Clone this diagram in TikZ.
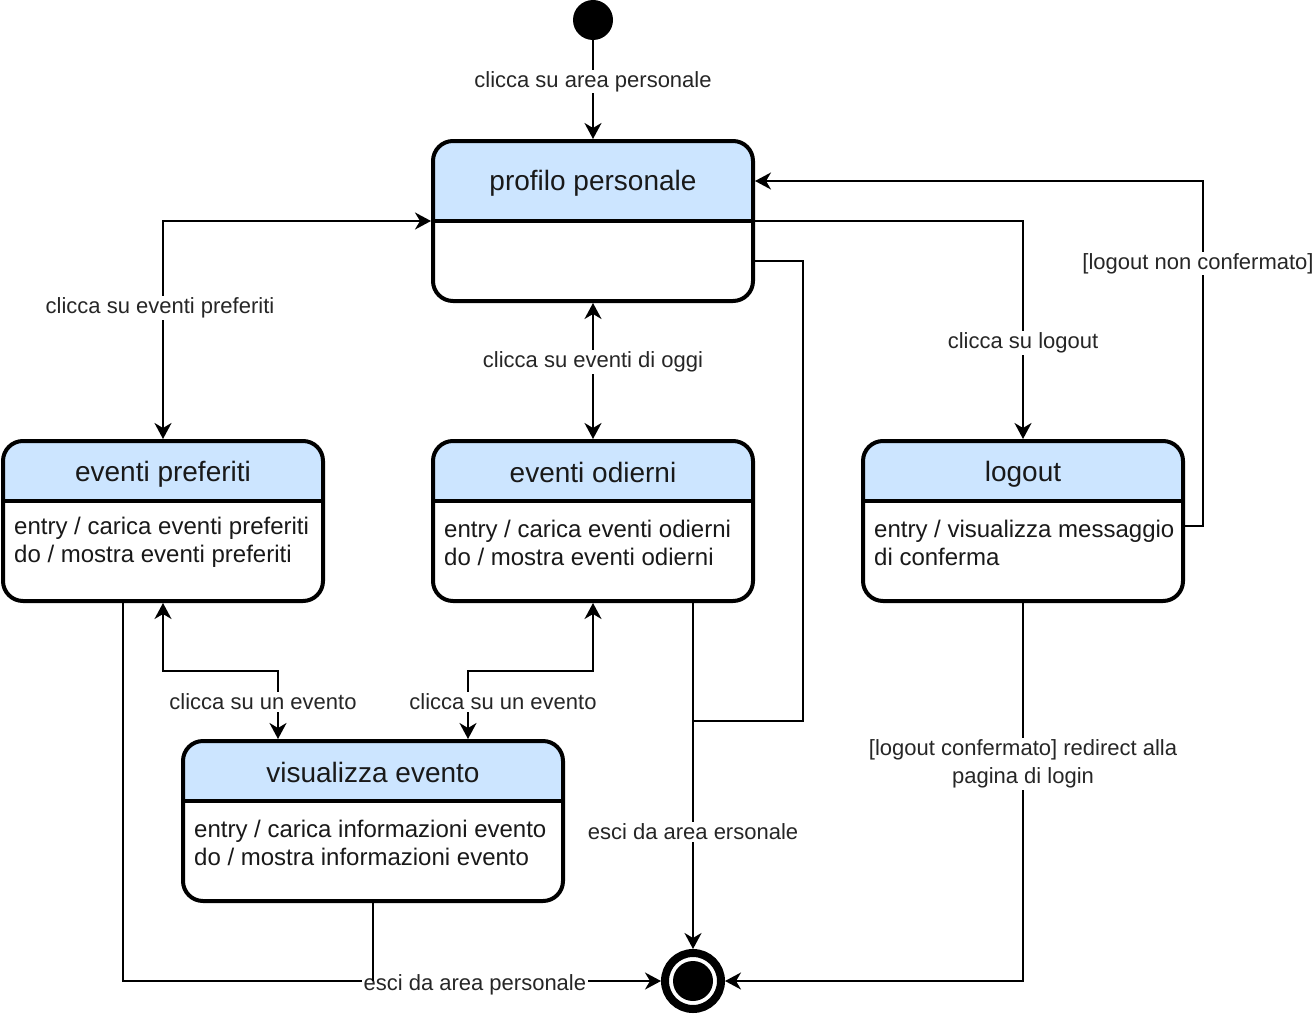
\documentclass[tikz,border=0pt]{standalone}
\usepackage{fontspec}
\setmainfont{Liberation Sans}
\usetikzlibrary{arrows.meta, positioning, calc}

\definecolor{azzurro}{RGB}{204,229,255}

\begin{document}
\begin{tikzpicture}[
  x=1pt, y=-1pt,
  altezza testata/.store in=\altezzatestata,
  altezza testata=60pt,
  stato/.style={
    draw=black,
    line width=4pt,
    rounded corners=20pt,
    fill=white,
    minimum width=320pt,
    minimum height=160pt,
    inner sep=0pt,
    path picture={
      \fill[azzurro, sharp corners] (path picture bounding box.north west) rectangle ([yshift=-\altezzatestata]path picture bounding box.north east);
      \draw[line width=4pt, sharp corners] ([yshift=-\altezzatestata]path picture bounding box.north west) -- ([yshift=-\altezzatestata]path picture bounding box.north east);
    }
  },
  titolo/.style={font=\fontsize{28}{32}\selectfont, text=black!90},
  corpo/.style={
    font=\fontsize{24}{28}\selectfont,
    align=left,
    anchor=west,
    inner sep=0pt,
    text=black!90
  },
  etichetta/.style={
    font=\fontsize{22}{28}\selectfont,
    fill=white,
    inner sep=1.5pt,
    yshift=-2pt,
    align=center,
    text=black!85
  },
  iniziale/.style={circle, fill=black, minimum size=40pt, inner sep=0pt},
  finale/.style={
    circle,
    draw=black,
    line width=8pt,
    fill=white,
    minimum size=56pt,
    inner sep=0pt,
    path picture={\fill[black] (path picture bounding box.center) circle (20pt);}
  },
  freccia/.style={
    -{Stealth[length=16pt, width=17pt, inset=5pt]},
    line width=2pt
  },
  doppia/.style={
    {Stealth[length=16pt, width=17pt, inset=5pt]}-{Stealth[length=16pt, width=17pt, inset=5pt]},
    line width=2pt
  },
  linea/.style={line width=2pt}
]
  \useasboundingbox (0,0) rectangle (1316,1014);

  % Stati
  \node[iniziale] (ini) at (593,20) {};
  \node[stato, altezza testata=80pt] (pp) at (593,221) {};
  \node[stato, below=136pt of pp] (eo) {};
  \node[stato, left=106pt of eo] (ep) {};
  \node[stato, right=106pt of eo] (lo) {};
  \node[stato, minimum width=380pt] (ve) at (373,821) {};
  \node[finale] (fin) at (693,981) {};

  % Titoli
  \node[titolo] (pp-t) at ([yshift=-44pt]pp.north) {profilo personale};
  \node[titolo] (ep-t) at ([yshift=-35pt]ep.north) {eventi preferiti};
  \node[titolo] (eo-t) at ([yshift=-33pt]eo.north) {eventi odierni};
  \node[titolo] (lo-t) at ([yshift=-35pt]lo.north) {logout};
  \node[titolo] (ve-t) at ([yshift=-33pt]ve.north) {visualizza evento};

  % Attivita
  \node[corpo] (ep-c) at ([xshift=13pt, yshift=-103.5pt]ep.north west) {entry / carica eventi preferiti\\do / mostra eventi preferiti};
  \node[corpo] (eo-c) at ([xshift=13pt, yshift=-103.5pt]eo.north west) {entry / carica eventi odierni\\do / mostra eventi odierni};
  \node[corpo] (lo-c) at ([xshift=13pt, yshift=-103.5pt]lo.north west) {entry / visualizza messaggio\\di conferma};
  \node[corpo] (ve-c) at ([xshift=13pt, yshift=-103.5pt]ve.north west) {entry / carica informazioni evento\\do / mostra informazioni evento};

  \coordinate (giunto) at ($(eo.south)+(100,118)$);

  % Transizioni
  \draw[freccia] (ini) -- node[etichetta, pos=0.40] {clicca su area personale} (pp);
  \draw[doppia] (ep.north) |- node[etichetta, pos=0.305, xshift=-3pt] {clicca su eventi preferiti} (pp.west);
  \draw[doppia] (pp.south) -- node[etichetta, pos=0.42] {clicca su eventi di oggi} (eo.north);
  \draw[freccia] (pp.east) -| node[etichetta, pos=0.775] {clicca su logout} (lo.north);
  \draw[freccia] ([yshift=-5pt]lo.east) -- ++(18,0) |- node[etichetta, pos=0.383, xshift=-5pt] {[logout non confermato]} ([yshift=40pt]pp.east);
  \draw[doppia] (ep.south) -- ++(0,68) -| node[etichetta, pos=0.713, xshift=-15pt] {clicca su un evento} ([xshift=-95pt]ve.north);
  \draw[doppia] (eo.south) -- ++(0,68) -| node[etichetta, pos=0.713, xshift=35pt] {clicca su un evento} ([xshift=95pt]ve.north);

  % Uscita
  \draw[freccia] ([xshift=-40pt]ep.south) |- node[etichetta, pos=0.827, yshift=-2pt] {esci da area personale} (fin.west);
  \draw[linea] (ve.south) -- (ve.south |- fin);
  \draw[freccia] ([xshift=100pt]eo.south) -- node[etichetta, pos=0.656] {esci da area ersonale} (fin.north);
  \draw[linea] ([yshift=-40pt]pp.east) -- ++(48,0) |- (giunto);
  \draw[freccia] (lo.south) |- node[etichetta, pos=0.21] {[logout confermato] redirect alla\\pagina di login} (fin.east);
\end{tikzpicture}
\end{document}
